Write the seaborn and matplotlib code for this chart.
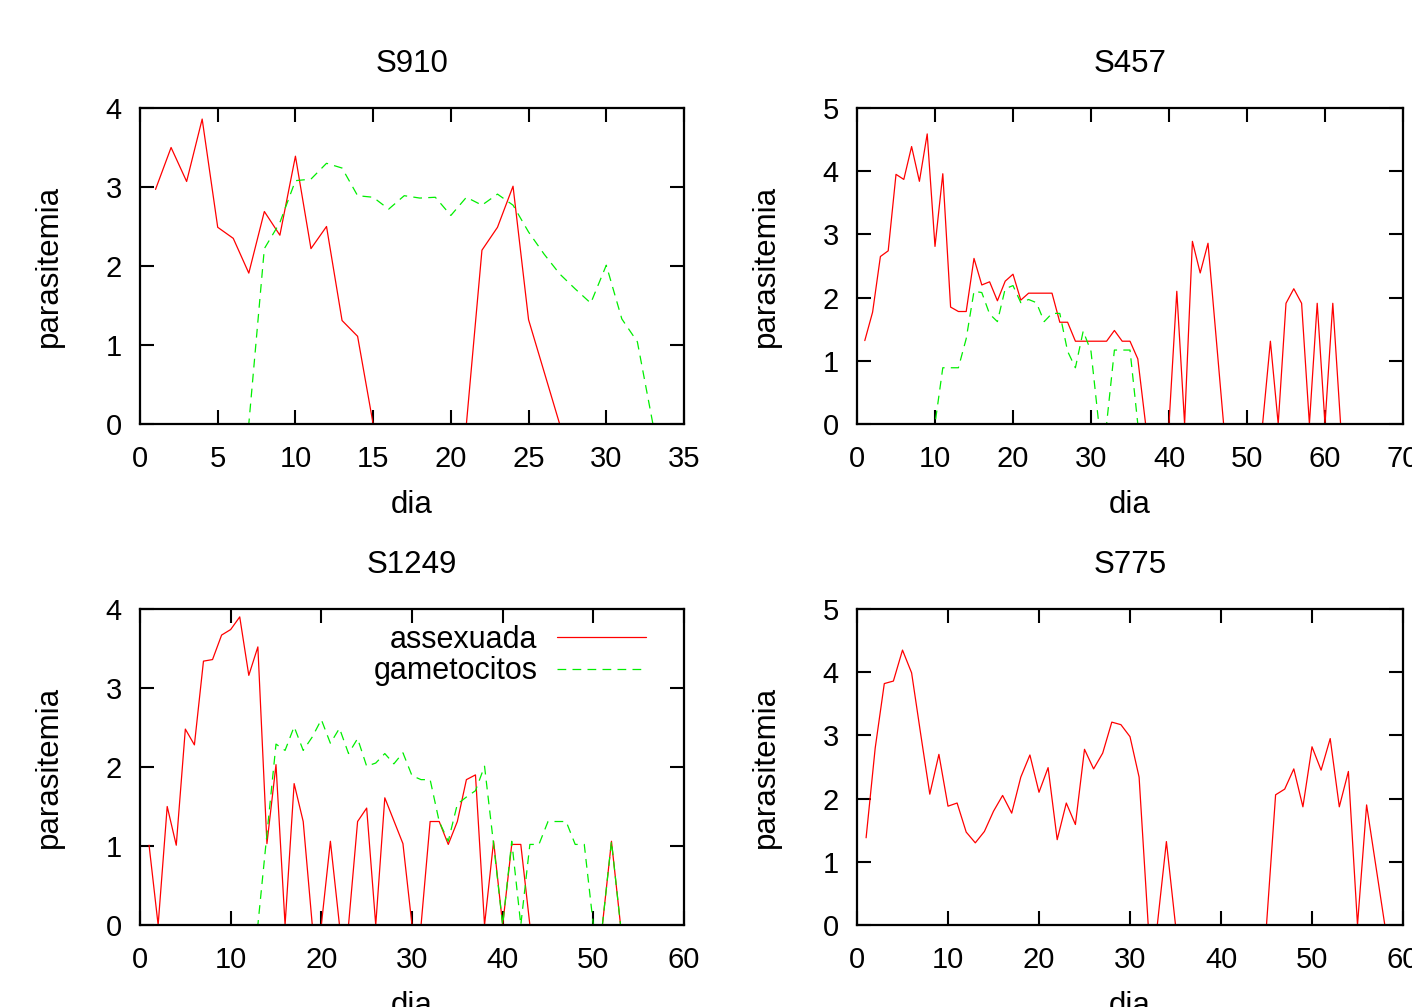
import matplotlib
matplotlib.use("Agg")
import matplotlib.pyplot as plt
import seaborn as sns
import numpy as np

sns.set_style("ticks")
plt.rcParams['font.family'] = ['Liberation Sans', 'DejaVu Sans']
plt.rcParams['text.color'] = 'black'
plt.rcParams['axes.labelcolor'] = 'black'
plt.rcParams['axes.edgecolor'] = 'black'
plt.rcParams['xtick.color'] = 'black'
plt.rcParams['ytick.color'] = 'black'

# parasitemia per day (day 1, 2, 3, ...)
s910_assexuada = [2.97, 3.50, 3.07, 3.86, 2.49, 2.35, 1.91, 2.69, 2.39, 3.39,
                  2.22, 2.50, 1.31, 1.11, 0, 0, 0, 0, 0, 0,
                  0, 2.20, 2.49, 3.01, 1.32, 0.66, 0, 0, 0, 0,
                  0, 0, 0]
s910_gametocitos = [0, 0, 0, 0, 0, 0, 0, 2.22, 2.55, 3.08,
                    3.10, 3.30, 3.24, 2.89, 2.87, 2.72, 2.89, 2.86, 2.87, 2.64,
                    2.87, 2.77, 2.91, 2.77, 2.43, 2.15, 1.90, 1.71, 1.53, 2.01,
                    1.33, 1.04, 0]

s457_assexuada = [1.32, 1.77, 2.65, 2.74, 3.95, 3.87, 4.39, 3.84, 4.59, 2.81,
                  3.96, 1.85, 1.78, 1.78, 2.62, 2.20, 2.25, 1.95, 2.26, 2.37,
                  1.96, 2.07, 2.07, 2.07, 2.07, 1.61, 1.61, 1.31, 1.31, 1.31,
                  1.31, 1.31, 1.48, 1.31, 1.31, 1.03, 0, 0, 0, 0,
                  2.10, 0, 2.89, 2.39, 2.86, 1.43, 0, 0, 0, 0,
                  0, 0, 1.31, 0, 1.91, 2.14, 1.91, 0, 1.91, 0,
                  1.91, 0]
s457_gametocitos = [0, 0, 0, 0, 0, 0, 0, 0, 0, 0,
                    0.89, 0.89, 0.89, 1.35, 2.10, 2.08, 1.74, 1.62, 2.14, 2.19,
                    1.92, 1.97, 1.92, 1.62, 1.75, 1.75, 1.15, 0.89, 1.47, 1.15,
                    0, 0, 1.17, 1.17, 1.17, 0, 0, 0, 0, 0,
                    0, 0, 0, 0, 0, 0, 0, 0, 0, 0,
                    0, 0, 0, 0, 0, 0, 0, 0, 0, 0,
                    0, 0]

s1249_assexuada = [1.01, 0, 1.50, 1.01, 2.48, 2.28, 3.34, 3.36, 3.67, 3.74,
                   3.90, 3.16, 3.52, 1.03, 2.03, 0, 1.79, 1.31, 0, 0,
                   1.06, 0, 0, 1.31, 1.48, 0, 1.61, 1.32, 1.03, 0,
                   0, 1.31, 1.31, 1.02, 1.31, 1.84, 1.90, 0, 1.06, 0,
                   1.02, 1.02, 0, 0, 0, 0, 0, 0, 0, 0,
                   0, 1.06, 0]
s1249_gametocitos = [0, 0, 0, 0, 0, 0, 0, 0, 0, 0,
                     0, 0, 0, 1.15, 2.29, 2.21, 2.51, 2.21, 2.38, 2.60,
                     2.30, 2.49, 2.17, 2.36, 2.01, 2.05, 2.17, 2.04, 2.18, 1.89,
                     1.84, 1.84, 1.31, 1.06, 1.53, 1.62, 1.70, 2.01, 1.02, 0,
                     1.06, 0, 1.02, 1.02, 1.31, 1.31, 1.31, 1.02, 1.02, 0,
                     0, 1.06, 0]

s775_assexuada = [1.38, 2.80, 3.82, 3.86, 4.35, 3.99, 3.02, 2.07, 2.70, 1.88,
                  1.93, 1.47, 1.30, 1.48, 1.80, 2.05, 1.77, 2.34, 2.69, 2.10,
                  2.49, 1.35, 1.93, 1.59, 2.78, 2.47, 2.72, 3.21, 3.17, 2.98,
                  2.34, 0, 0, 1.32, 0, 0, 0, 0, 0, 0,
                  0, 0, 0, 0, 0, 2.06, 2.15, 2.47, 1.87, 2.82,
                  2.45, 2.95, 1.87, 2.43, 0, 1.90, 0.95, 0]

W, H = 1412, 1007
fig = plt.figure(figsize=(W / 100, H / 100), dpi=100)


def px_axes(left, top, right, bottom):
    return fig.add_axes([left / W, 1 - bottom / H, (right - left) / W, (bottom - top) / H])


panels = [
    ("S910", s910_assexuada, s910_gametocitos, 35, 5, 4, (140, 108, 684, 424)),
    ("S457", s457_assexuada, s457_gametocitos, 70, 10, 5, (857, 108, 1403, 424)),
    ("S1249", s1249_assexuada, s1249_gametocitos, 60, 10, 4, (140, 609, 684, 925)),
    ("S775", s775_assexuada, None, 60, 10, 5, (857, 609, 1403, 925)),
]

for title, assex, gamet, xmax, xstep, ymax, box in panels:
    ax = px_axes(*box)
    days = np.arange(1, len(assex) + 1)
    sns.lineplot(x=days, y=assex, ax=ax, color='#ff0000', lw=0.9,
                 label='assexuada')
    if gamet is not None:
        gdays = np.arange(1, len(gamet) + 1)
        sns.lineplot(x=gdays, y=gamet, ax=ax, color='#00ee00', lw=0.9,
                     ls=(0, (7, 5)), label='gametocitos')
    ax.set_xlim(0, xmax)
    ax.set_ylim(0, ymax)
    ax.set_xticks(np.arange(0, xmax + 1, xstep))
    ax.set_yticks(np.arange(0, ymax + 1, 1))
    for sp in ax.spines.values():
        sp.set_visible(True)
        sp.set_linewidth(1.6)
    ax.tick_params(direction='in', length=10, width=1.5, top=True, right=True,
                   labelsize=21)
    ax.tick_params(axis='x', pad=15)
    ax.tick_params(axis='y', pad=13)
    ax.set_title(title, fontsize=22.5, pad=26)
    ax.set_xlabel('dia', fontsize=22.5)
    ax.set_ylabel('parasitemia', fontsize=22.5)
    ax.xaxis.set_label_coords(0.5, -0.21)
    ax.yaxis.set_label_coords(-0.14, 0.5)
    if title == "S1249":
        ax.legend(loc='upper right', bbox_to_anchor=(0.93, 0.95), frameon=False,
                  markerfirst=False, fontsize=22, handlelength=2.9,
                  handletextpad=0.65, labelspacing=0.05, borderpad=0,
                  borderaxespad=0)
    else:
        ax.get_legend().remove()

fig.savefig("out.png", dpi=100)
